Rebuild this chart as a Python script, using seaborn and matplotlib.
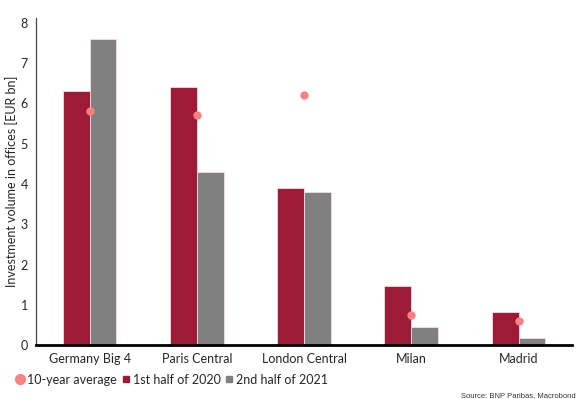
import pandas as pd
import matplotlib.pyplot as plt
import seaborn as sns
from matplotlib.lines import Line2D

regions = ["Germany Big 4", "Paris Central", "London Central", "Milan", "Madrid"]
h1_2020 = [6.3, 6.4, 3.9, 1.47, 0.83]
h2_2021 = [7.6, 4.3, 3.8, 0.44, 0.17]
avg_10y = [5.8, 5.7, 6.2, 0.75, 0.6]

red = "#9e1b38"
grey = "#808080"
dot = "#ff8080"

df = pd.DataFrame({
    "Region": regions * 2,
    "Value": h1_2020 + h2_2021,
    "Period": ["1st half of 2020"] * 5 + ["2nd half of 2021"] * 5,
})

sns.set_style("white")
plt.rcParams["font.family"] = ["Lato", "DejaVu Sans"]

fig = plt.figure(figsize=(5.82, 3.99), dpi=100)
ax = fig.add_axes([0.062, 0.135, 0.921, 0.82])

sns.barplot(data=df, x="Region", y="Value", hue="Period", order=regions,
            palette=[red, grey], saturation=1, width=0.5, gap=0, ax=ax,
            edgecolor="#f0dde1", linewidth=0.6, legend=False)
sns.stripplot(x=regions, y=avg_10y, order=regions, jitter=False,
              color=dot, size=6, ax=ax, zorder=5)

ax.set_xlim(-0.5, 4.5)
ax.set_ylim(0, 8.12)
ax.set_yticks(range(0, 9))
ax.set_xlabel("")
ax.set_ylabel("Investment volume in offices [EUR bn]", fontsize=9, labelpad=2)

# boundary ticks between categories on the x axis
ax.set_xticks([i for i in range(5)])
ax.set_xticks([i - 0.5 for i in range(6)], minor=True)
ax.tick_params(axis="x", which="major", length=0, labelsize=9, pad=6)
ax.tick_params(axis="x", which="minor", length=5, width=1, color="black", direction="out")
ax.tick_params(axis="y", length=4, width=0.8, color="#444444", labelsize=9, direction="out", pad=2)

sns.despine(ax=ax)
ax.spines["bottom"].set_linewidth(2)
ax.spines["bottom"].set_color("black")
ax.spines["left"].set_linewidth(0.9)
ax.spines["left"].set_color("#444444")

handles = [
    Line2D([], [], marker="o", linestyle="", color=dot, markersize=7),
    Line2D([], [], marker="s", linestyle="", color=red, markersize=5),
    Line2D([], [], marker="s", linestyle="", color=grey, markersize=5),
]
labels = ["10-year average", "1st half of 2020", "2nd half of 2021"]
fig.legend(handles, labels, loc="lower left", bbox_to_anchor=(0.005, 0.005),
           ncol=3, frameon=False, fontsize=9, handletextpad=0.05,
           columnspacing=0.2, handlelength=1.0)

fig.text(0.99, 0.0, "Source: BNP Paribas, Macrobond", ha="right", va="bottom",
         fontsize=5.5, color="#333333", family=["Liberation Sans", "DejaVu Sans"])

plt.savefig("out.png", dpi=100)
